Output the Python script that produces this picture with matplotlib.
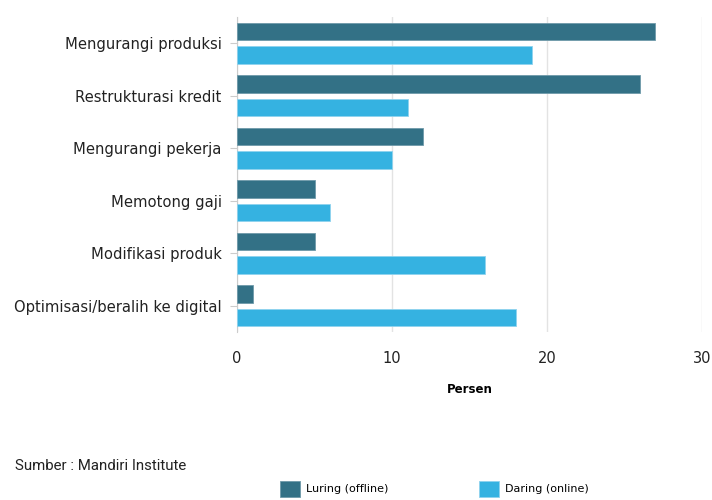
import numpy as np
import matplotlib
matplotlib.use("Agg")
import matplotlib.pyplot as plt

plt.rcParams["font.family"] = ["DejaVu Sans"]

# data
categories = ["Mengurangi produksi", "Restrukturasi kredit", "Mengurangi pekerja",
              "Memotong gaji", "Modifikasi produk", "Optimisasi/beralih ke digital"]
luring = [27, 26, 12, 5, 5, 1]
daring = [19, 11, 10, 6, 16, 18]
xticks = [0, 10, 20, 30]

c_luring = "#337186"
c_daring = "#35b2e1"

fig = plt.figure(figsize=(7.12, 5), dpi=100)
ax = fig.add_axes([237/712, 1-332/500, (702-237)/712, (332-17)/500])

y = np.arange(len(categories))
h = 0.33
ax.barh(y - 0.223, luring, height=h, color=c_luring, edgecolor="#6f9aaa", linewidth=0.6,
        label="Luring (offline)", zorder=3)
ax.barh(y + 0.223, daring, height=h, color=c_daring, edgecolor="#8fd3ee", linewidth=0.6,
        label="Daring (online)", zorder=3)

ax.set_ylim(len(categories) - 0.5, -0.5)
ax.set_xlim(0, 30)
ax.set_yticks(y)
ax.set_yticklabels(categories, fontsize=10.6, color="#222222")
ax.set_xticks(xticks)
ax.set_xticklabels([str(t) for t in xticks], fontsize=10.5, color="#222222")
ax.tick_params(axis="y", length=5, color="#cccccc", pad=6)
ax.tick_params(axis="x", length=0, pad=14)
ax.grid(axis="x", color="#e3e3e3", linewidth=1, zorder=0)
for s in ["top", "right", "bottom"]:
    ax.spines[s].set_visible(False)
ax.spines["left"].set_color("#cccccc")
ax.set_xlabel("Persen", fontsize=8.5, fontweight="bold", labelpad=12)

fig.text(15/712, 1-466/500, "Sumber : Mandiri Institute", fontsize=10.8,
         family="Roboto", va="center", ha="left", color="#222222")

fig.legend(loc="upper left", bbox_to_anchor=(280/712, 1-481/500), ncol=2,
           frameon=False, fontsize=8, handlelength=1.8, handleheight=1.8,
           handletextpad=0.5, columnspacing=8.2, borderaxespad=0, borderpad=0)

fig.savefig("out.png", dpi=100)
